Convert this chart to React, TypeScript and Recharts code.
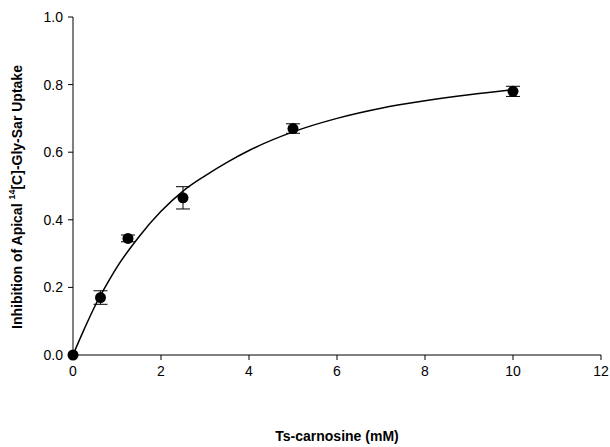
import React from "react"
import {
  ComposedChart,
  Line,
  Scatter,
  ErrorBar,
  XAxis,
  YAxis
} from "recharts"

// measured points
const conc = [0, 0.625, 1.25, 2.5, 5, 10]
const inhibition = [0, 0.17, 0.345, 0.465, 0.67, 0.78]
const sem = [0, 0.02, 0.01, 0.033, 0.014, 0.015]

// fitted curve
const fitX = [0, 0.25, 0.5, 0.75, 1, 1.5, 2, 2.5, 3, 3.5, 4, 5, 6, 7, 8, 9, 10]
const fitY = [0, 0.075, 0.145, 0.205, 0.26, 0.35, 0.425, 0.485, 0.53, 0.57, 0.605, 0.66, 0.7, 0.73, 0.752, 0.77, 0.785]

const xTicks = [0, 2, 4, 6, 8, 10, 12]
const yTicks = [0, 0.2, 0.4, 0.6, 0.8, 1.0]

const points = conc.map((x, i) => ({ x, y: inhibition[i], err: sem[i] }))
const fit = fitX.map((x, i) => ({ x, y: fitY[i] }))

const font = "'Liberation Sans', Arial, sans-serif"

const Dot = (props: any) => (
  <circle cx={props.cx} cy={props.cy} r={5.5} fill="#000" />
)

const YTitle = () => (
  <text
    x={17}
    y={197}
    transform="rotate(-90, 17, 197)"
    textAnchor="middle"
    dominantBaseline="central"
    fontFamily={font}
    fontSize={14}
    fontWeight="bold"
    fill="#000"
  >
    Inhibition of Apical{" "}
    <tspan dy={-5} fontSize={9}>14</tspan>
    <tspan dy={5}>[C]-Gly-Sar Uptake</tspan>
  </text>
)

const XTitle = () => (
  <text
    x={337}
    y={436}
    textAnchor="middle"
    dominantBaseline="central"
    fontFamily={font}
    fontSize={14}
    fontWeight="bold"
    fill="#000"
  >
    Ts-carnosine (mM)
  </text>
)

export default function App() {
  return (
    <div style={{ position: "absolute", left: 0, top: 0 }}>
      <ComposedChart
        width={610}
        height={447}
        margin={{ top: 17, right: 9, left: 0, bottom: 0 }}
      >
        <XAxis
          type="number"
          dataKey="x"
          domain={[0, 12]}
          ticks={xTicks}
          interval={0}
          height={92}
          stroke="#000"
          tickSize={5}
          tickMargin={6}
          tick={{ fill: "#000", fontSize: 14, fontFamily: font }}
          label={{ content: () => <XTitle /> }}
        />
        <YAxis
          type="number"
          dataKey="y"
          domain={[0, 1]}
          ticks={yTicks}
          interval={0}
          width={73}
          stroke="#000"
          tickSize={5}
          tickMargin={5}
          tickFormatter={(v: number) => v.toFixed(1)}
          tick={{ fill: "#000", fontSize: 14, fontFamily: font }}
          label={{ content: () => <YTitle /> }}
        />
        <Line
          data={fit}
          dataKey="y"
          type="monotone"
          stroke="#000"
          strokeWidth={1.5}
          dot={false}
          activeDot={false}
          isAnimationActive={false}
        />
        <Scatter
          data={points}
          dataKey="y"
          shape={<Dot />}
          isAnimationActive={false}
        >
          <ErrorBar dataKey="err" direction="y" width={7} stroke="#000" strokeWidth={1} />
        </Scatter>
      </ComposedChart>
    </div>
  )
}
